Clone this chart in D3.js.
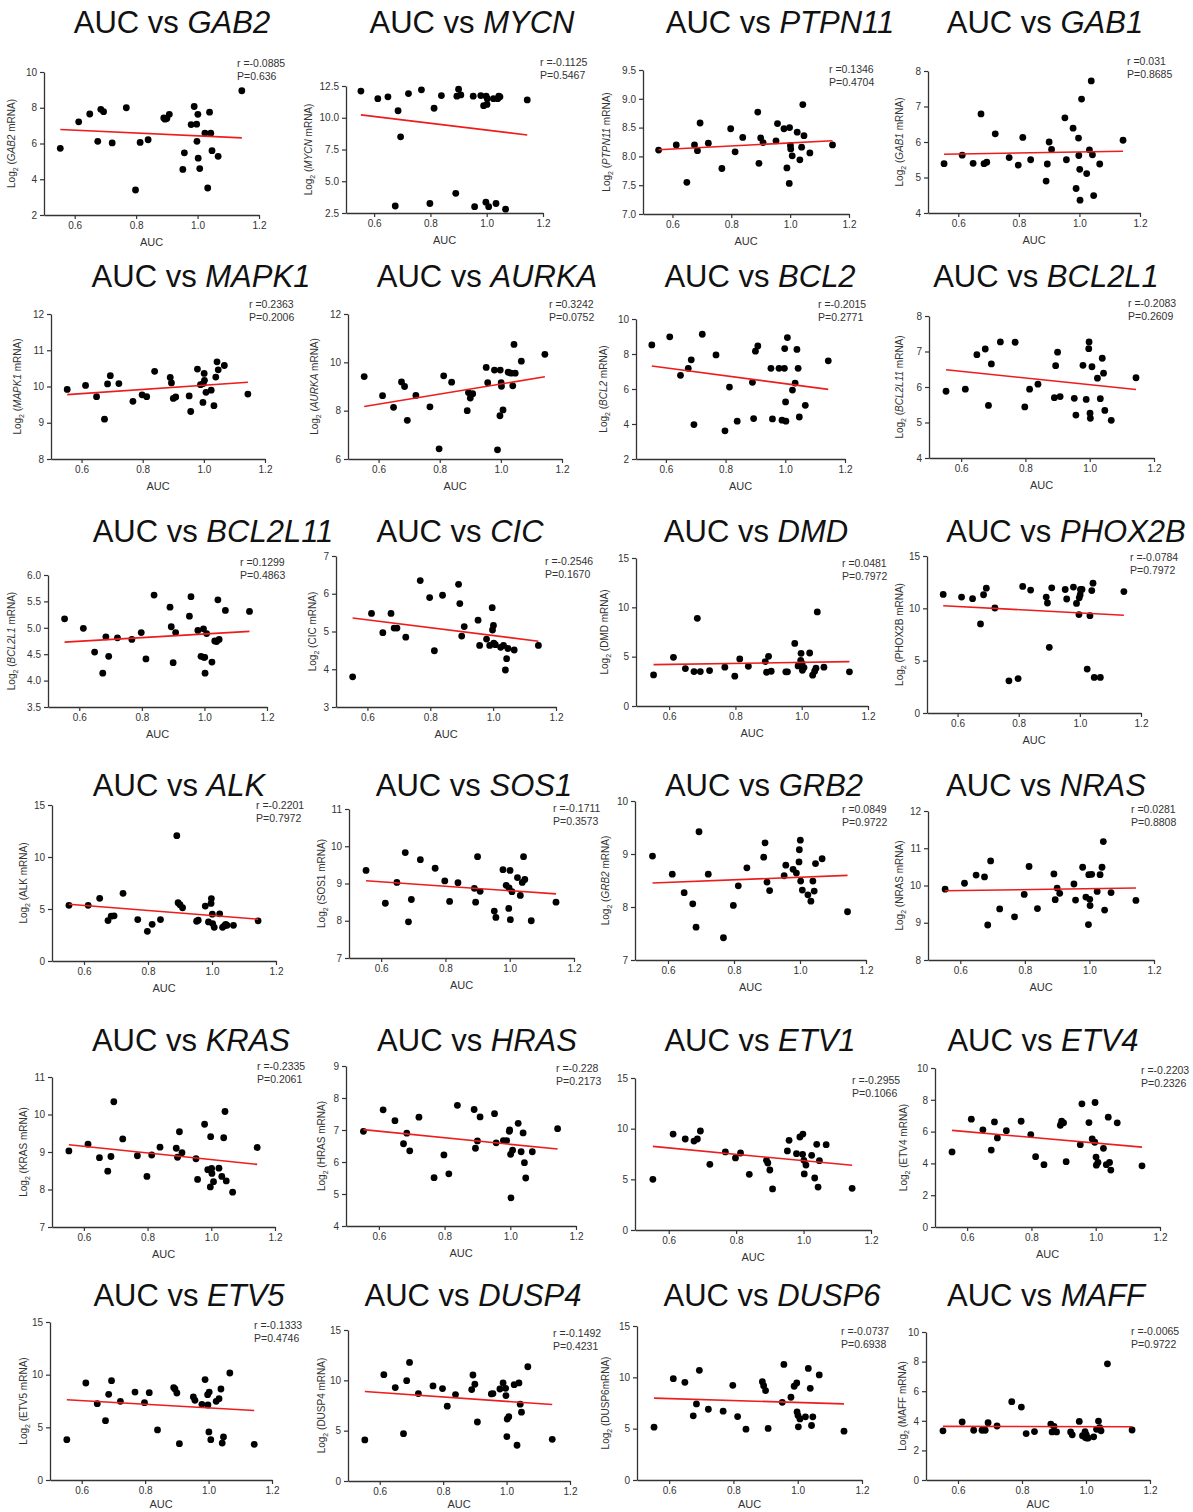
<!DOCTYPE html>
<html>
<head>
<meta charset="utf-8">
<script src="https://cdn.jsdelivr.net/npm/d3@7"></script>
<style>
body { margin: 0; background: #fff; }
svg text { font-family: "Liberation Sans", Arial, sans-serif; }
</style>
</head>
<body>
<div id="chart"></div>
<script>
// AUC of the 31 cell lines (same x for every panel)
var auc = [0.553, 0.613, 0.649, 0.675, 0.685, 0.694, 0.722, 0.768, 0.798, 0.813, 0.839,
	0.890, 0.894, 0.900, 0.908, 0.952, 0.957, 0.979, 0.989, 0.997, 0.998, 1.001, 1.002,
	1.007, 1.024, 1.033, 1.039, 1.043, 1.047, 1.067, 1.144];

var genes = ["GAB2", "MYCN", "PTPN11", "GAB1", "MAPK1", "AURKA", "BCL2", "BCL2L1",
	"BCL2L11", "CIC", "DMD", "PHOX2B", "ALK", "SOS1", "GRB2", "NRAS",
	"KRAS", "HRAS", "ETV1", "ETV4", "ETV5", "DUSP4", "DUSP6", "MAFF"];

// log2 mRNA, one value per cell line, in auc order
var y_GAB2 = [5.73, 7.21, 7.65, 6.12, 7.91, 7.78, 6.03, 8.0, 3.40, 6.06, 6.21, 7.43, 7.36, 7.40, 7.63, 4.55, 5.48, 7.06, 8.07, 7.08, 6.12, 7.63, 5.18, 4.60, 6.58, 3.51, 7.75, 6.58, 5.60, 5.28, 8.95];
var y_MYCN = [12.1, 11.5, 11.65, 3.05, 10.55, 8.5, 11.9, 12.2, 3.25, 10.75, 11.75, 4.05, 11.7, 12.25, 11.8, 11.7, 3.0, 11.75, 10.95, 3.35, 11.7, 11.05, 11.5, 3.0, 11.5, 3.25, 11.5, 11.7, 11.65, 2.8, 11.4];
var y_PTPN11 = [8.11, 8.20, 7.55, 8.20, 8.10, 8.58, 8.23, 7.79, 8.48, 8.08, 8.33, 8.77, 7.88, 8.32, 8.24, 8.27, 8.57, 8.48, 7.80, 7.53, 8.50, 8.19, 8.13, 8.01, 8.42, 7.94, 8.16, 8.90, 8.36, 8.06, 8.20];
var y_GAB1 = [5.39, 5.63, 5.40, 6.79, 5.39, 5.43, 6.23, 5.56, 5.35, 6.13, 5.50, 4.90, 5.38, 6.0, 5.79, 6.68, 5.50, 6.39, 4.69, 6.11, 5.62, 5.23, 4.36, 7.21, 5.11, 5.78, 7.72, 5.64, 4.49, 5.38, 6.05];
var y_MAPK1 = [9.92, 10.03, 9.72, 9.10, 10.07, 10.30, 10.08, 9.59, 9.77, 9.72, 10.42, 10.25, 10.1, 9.67, 9.71, 9.74, 9.31, 10.48, 10.05, 9.56, 10.08, 10.36, 10.17, 9.84, 9.9, 9.47, 10.26, 10.68, 10.46, 10.58, 9.79];
var y_AURKA = [9.41, 8.62, 8.14, 9.19, 9.0, 7.60, 8.63, 8.16, 6.42, 9.44, 9.18, 8.0, 8.75, 8.52, 8.7, 9.79, 9.16, 9.68, 6.38, 7.79, 9.68, 9.16, 9.01, 8.03, 9.59, 9.55, 9.03, 10.74, 9.55, 10.05, 10.33];
var y_BCL2 = [8.52, 8.98, 6.78, 7.18, 7.67, 3.97, 9.13, 7.95, 3.61, 6.11, 4.16, 6.38, 4.31, 8.16, 8.46, 7.18, 4.29, 7.18, 4.22, 7.18, 8.31, 5.26, 4.16, 8.94, 5.94, 6.34, 8.26, 7.18, 4.40, 5.07, 7.61];
var y_BCL2L1 = [5.88, 5.94, 6.91, 7.07, 5.48, 6.65, 7.27, 7.26, 5.44, 5.94, 6.08, 5.70, 6.60, 6.98, 5.73, 5.68, 5.21, 6.61, 5.65, 7.08, 7.27, 5.26, 5.12, 6.57, 6.25, 5.67, 6.81, 6.39, 5.34, 5.06, 6.26];
var y_BCL2L11 = [5.17, 4.99, 4.54, 4.14, 4.83, 4.46, 4.81, 4.78, 4.91, 4.41, 5.62, 5.39, 5.02, 4.34, 4.91, 5.22, 5.59, 4.95, 4.46, 4.98, 4.44, 4.44, 4.14, 4.89, 4.35, 4.75, 4.74, 5.53, 4.78, 5.33, 5.31];
var y_CIC = [3.80, 5.48, 4.97, 5.48, 5.09, 5.09, 4.85, 6.35, 5.90, 4.49, 5.96, 6.25, 5.74, 4.88, 5.13, 5.30, 4.63, 4.80, 4.63, 5.63, 5.04, 5.16, 4.69, 4.65, 4.58, 4.63, 3.98, 4.28, 4.55, 4.51, 4.63];
var y_DMD = [3.15, 4.93, 3.79, 3.49, 8.89, 3.49, 3.59, 3.93, 3.02, 4.77, 4.03, 4.50, 3.42, 5.03, 3.52, 3.46, 3.46, 6.34, 4.06, 4.63, 5.34, 4.30, 3.62, 3.89, 5.37, 3.12, 3.52, 3.83, 9.53, 3.93, 3.46];
var y_PHOX2B = [11.33, 11.08, 10.92, 8.51, 11.30, 11.93, 10.03, 3.07, 3.29, 12.09, 11.74, 11.08, 10.51, 6.27, 11.96, 11.80, 10.89, 12.03, 10.47, 9.40, 11.0, 11.3, 11.8, 11.8, 4.2, 9.3, 11.7, 12.4, 3.4, 3.4, 11.6];
var y_ALK = [5.35, 5.35, 6.03, 3.89, 4.31, 4.34, 6.51, 3.98, 2.85, 3.53, 3.98, 12.05, 5.60, 5.41, 5.12, 3.82, 3.92, 5.28, 3.76, 5.54, 6.0, 4.50, 3.60, 3.24, 4.54, 3.24, 3.40, 3.53, 3.43, 3.43, 3.86];
var y_SOS1 = [9.35, 8.47, 9.03, 9.83, 7.97, 8.57, 9.64, 9.41, 9.07, 8.52, 9.02, 8.87, 8.50, 9.72, 8.79, 8.26, 8.09, 9.37, 8.95, 8.33, 8.88, 9.35, 8.03, 8.78, 9.16, 8.68, 9.03, 9.72, 9.11, 8.0, 8.50];
var y_GRB2 = [8.96, 8.62, 8.27, 8.06, 7.62, 9.42, 8.62, 7.42, 8.03, 8.40, 8.74, 8.94, 9.21, 8.47, 8.31, 8.59, 8.79, 8.71, 8.64, 8.85, 9.08, 9.26, 8.49, 8.32, 8.23, 8.11, 8.49, 8.30, 8.82, 8.91, 7.91];
var y_NRAS = [9.90, 10.06, 10.28, 10.23, 8.94, 10.66, 9.37, 9.16, 9.76, 10.51, 9.38, 10.31, 9.62, 9.93, 9.79, 10.04, 9.61, 10.49, 9.69, 8.95, 10.29, 9.63, 9.46, 10.30, 9.84, 10.29, 10.49, 11.18, 9.34, 9.81, 9.60];
var y_KRAS = [9.03, 9.21, 8.85, 8.49, 8.88, 10.34, 9.35, 8.90, 8.35, 8.92, 9.13, 9.10, 8.86, 9.54, 8.98, 8.82, 8.27, 9.74, 8.53, 8.07, 9.41, 8.56, 8.43, 8.21, 8.57, 8.35, 9.38, 10.08, 8.23, 7.93, 9.12];
var y_HRAS = [6.96, 7.63, 7.29, 6.57, 6.90, 6.35, 7.40, 5.51, 6.22, 5.63, 7.77, 7.64, 6.43, 6.66, 7.41, 7.51, 6.60, 6.67, 6.67, 6.96, 7.0, 6.24, 4.88, 6.37, 7.21, 6.32, 6.91, 5.98, 5.50, 6.32, 7.04];
var y_ETV1 = [5.0, 9.47, 8.98, 8.78, 8.98, 9.77, 6.48, 7.70, 7.11, 7.60, 5.49, 6.88, 6.61, 5.92, 4.05, 7.80, 8.85, 7.53, 9.18, 7.47, 9.47, 6.88, 5.53, 6.41, 7.37, 5.13, 8.45, 4.24, 6.84, 8.42, 4.11];
var y_ETV4 = [4.72, 6.78, 6.11, 4.84, 6.61, 5.60, 6.06, 6.65, 5.81, 4.42, 3.92, 6.40, 6.65, 6.55, 4.11, 5.18, 7.75, 6.57, 5.54, 5.33, 7.83, 4.40, 3.89, 4.06, 4.95, 3.92, 6.91, 4.06, 3.58, 6.55, 3.85];
var y_ETV5 = [3.83, 9.21, 7.25, 5.63, 8.13, 9.43, 7.47, 8.35, 7.34, 8.29, 4.75, 8.77, 8.64, 8.26, 3.45, 7.88, 7.56, 7.18, 9.53, 8.10, 7.12, 4.56, 8.35, 3.83, 7.47, 7.72, 8.64, 3.51, 4.08, 10.16, 3.39];
var y_DUSP4 = [4.08, 10.56, 9.28, 4.70, 9.97, 11.78, 8.68, 9.44, 9.18, 7.43, 8.59, 9.08, 10.53, 9.61, 5.86, 8.65, 8.68, 9.14, 9.74, 9.21, 8.49, 4.41, 6.15, 6.38, 9.57, 3.55, 9.74, 7.63, 6.84, 11.35, 4.14];
var y_DUSP6 = [5.15, 9.87, 9.51, 6.25, 7.41, 10.68, 6.89, 6.70, 9.22, 6.18, 4.95, 9.58, 9.19, 8.71, 5.02, 7.57, 11.26, 8.06, 9.13, 9.45, 6.63, 6.28, 5.18, 5.95, 6.15, 10.87, 8.93, 5.31, 6.15, 10.23, 4.76];
var y_MAFF = [3.32, 3.92, 3.36, 3.36, 3.36, 3.87, 3.65, 5.29, 4.93, 3.14, 3.27, 3.78, 3.25, 3.63, 3.25, 3.25, 3.05, 3.96, 2.99, 3.27, 2.88, 3.05, 2.83, 2.83, 2.92, 3.43, 3.98, 3.54, 3.32, 7.85, 3.38];

var yValues = [y_GAB2, y_MYCN, y_PTPN11, y_GAB1, y_MAPK1, y_AURKA, y_BCL2, y_BCL2L1,
	y_BCL2L11, y_CIC, y_DMD, y_PHOX2B, y_ALK, y_SOS1, y_GRB2, y_NRAS,
	y_KRAS, y_HRAS, y_ETV1, y_ETV4, y_ETV5, y_DUSP4, y_DUSP6, y_MAFF];

var rText = ["-0.0885", "-0.1125", "0.1346", "0.031", "0.2363", "0.3242", "-0.2015", "-0.2083",
	"0.1299", "-0.2546", "0.0481", "-0.0784", "-0.2201", "-0.1711", "0.0849", "0.0281",
	"-0.2335", "-0.228", "-0.2955", "-0.2203", "-0.1333", "-0.1492", "-0.0737", "-0.0065"];
var pText = ["0.636", "0.5467", "0.4704", "0.8685", "0.2006", "0.0752", "0.2771", "0.2609",
	"0.4863", "0.1670", "0.7972", "0.7972", "0.7972", "0.3573", "0.9722", "0.8808",
	"0.2061", "0.2173", "0.1066", "0.2326", "0.4746", "0.4231", "0.6938", "0.9722"];

var yDomains = [[2, 10], [2.5, 12.5], [7, 9.5], [4, 8], [8, 12], [6, 12], [2, 10], [4, 8],
	[3.5, 6], [3, 7], [0, 15], [0, 15], [0, 15], [7, 11], [7, 10], [8, 12],
	[7, 11], [4, 9], [0, 15], [0, 10], [0, 15], [0, 15], [0, 15], [0, 10]];
var yStep = [2, 2.5, 0.5, 1, 1, 2, 2, 1, 0.5, 1, 5, 5, 5, 1, 1, 1, 1, 1, 5, 2, 5, 5, 5, 2];
var xTicks = [0.6, 0.8, 1.0, 1.2];

// y-axis label gene name, and whether it is set in italics ("" = no label)
var yLabelGene = ["GAB2", "MYCN", "PTPN11", "GAB1", "MAPK1", "AURKA", "BCL2", "BCL2L11",
	"BCL2L1", "CIC", "DMD", "PHOX2B", "ALK", "SOS1", "GRB2", "NRAS",
	"KRAS", "HRAS", "", "ETV4", "ETV5", "DUSP4", "DUSP6", "MAFF"];
var yLabelItalic = [1, 1, 1, 1, 1, 1, 1, 1, 1, 0, 0, 0, 0, 0, 1, 0, 0, 0, 0, 0, 0, 0, 0, 0];

// panel placement: title x, title y, x pixel of AUC 0.5, x pixel of AUC 1.2, y top, y bottom, stats x, stats y, y label x
var layout = [
	[172, 22, 44, 259, 72, 215, 237, 63, 15],
	[472, 22, 346, 543, 86, 213, 540, 62, 312],
	[780, 22, 643, 849, 70, 214, 829, 69, 610],
	[1045, 22, 928, 1140, 71, 213, 1127, 61, 903],
	[201, 276, 51, 265, 314, 459, 249, 304, 21],
	[487, 276, 348, 562, 314, 459, 549, 304, 318],
	[760, 276, 636, 845, 319, 459, 818, 304, 607],
	[1046, 276, 929, 1154, 316, 458, 1128, 303, 903],
	[213, 531, 48, 267, 575, 707, 240, 562, 15],
	[460, 531, 336, 556, 556, 707, 545, 561, 316],
	[756, 531, 636, 868, 558, 706, 842, 563, 608],
	[1066, 531, 927, 1141, 556, 713, 1130, 557, 903],
	[179, 785, 52, 276, 805, 961, 256, 805, 27],
	[474, 785, 349, 574, 809, 958, 553, 808, 325],
	[764, 785, 635, 866, 801, 960, 842, 809, 609],
	[1046, 785, 928, 1154, 811, 960, 1131, 809, 903],
	[191, 1040, 52, 275, 1077, 1227, 257, 1066, 27],
	[477, 1040, 346, 576, 1066, 1226, 556, 1068, 325],
	[760, 1040, 635, 871, 1078, 1230, 852, 1080, 0],
	[1043, 1040, 935, 1160, 1068, 1227, 1141, 1070, 907],
	[189, 1295, 50, 272, 1322, 1480, 254, 1325, 27],
	[473, 1295, 348, 570, 1330, 1481, 553, 1333, 325],
	[772, 1295, 637, 862, 1326, 1480, 841, 1331, 609],
	[1046, 1295, 926, 1150, 1332, 1480, 1131, 1331, 906]
];

var width = 1193, height = 1512;
var svg = d3.select("#chart").append("svg")
	.attr("width", width)
	.attr("height", height);

function fit(xs, ys) {
	var mx = d3.mean(xs), my = d3.mean(ys);
	var sxy = 0, sxx = 0;
	for (var i = 0; i < xs.length; i++) {
		sxy += (xs[i] - mx) * (ys[i] - my);
		sxx += (xs[i] - mx) * (xs[i] - mx);
	}
	var b = sxy / sxx;
	return { b: b, a: my - b * mx };
}

genes.forEach(function(gene, k) {
	var L = layout[k];
	var g = svg.append("g");
	var ys = yValues[k];

	// title
	var title = g.append("text")
		.attr("x", L[0])
		.attr("y", L[1] + 11)
		.attr("text-anchor", "middle")
		.style("font-size", "31px")
		.style("fill", "#111");
	title.append("tspan").text("AUC vs ");
	title.append("tspan").style("font-style", "italic").text(gene);

	var x = d3.scaleLinear().domain([0.5, 1.2]).range([L[2], L[3]]);
	var y = d3.scaleLinear().domain(yDomains[k]).range([L[5], L[4]]);

	var yt = d3.range(yDomains[k][0], yDomains[k][1] + yStep[k] / 2, yStep[k]);
	var fmt = (yStep[k] < 1 || yDomains[k][0] % 1 != 0) ? d3.format(".1f") : d3.format("d");

	var yAxis = g.append("g")
		.attr("transform", "translate(" + L[2] + ",0)")
		.call(d3.axisLeft(y).tickValues(yt).tickFormat(fmt).tickSize(4).tickSizeOuter(0));
	var xAxis = g.append("g")
		.attr("transform", "translate(0," + L[5] + ")")
		.call(d3.axisBottom(x).tickValues(xTicks).tickFormat(d3.format(".1f")).tickSize(4).tickSizeOuter(0));

	[yAxis, xAxis].forEach(function(a) {
		a.select(".domain").attr("stroke", "#333").attr("stroke-width", 1.3);
		a.selectAll(".tick line").attr("stroke", "#333").attr("stroke-width", 1.2);
		a.selectAll(".tick text").style("font-size", "10px").style("fill", "#333")
			.style("font-family", "'Liberation Sans', Arial, sans-serif");
	});

	// x label
	g.append("text")
		.attr("x", (L[2] + L[3]) / 2)
		.attr("y", Math.min(L[5] + 31, height - 4))
		.attr("text-anchor", "middle")
		.style("font-size", "11px")
		.style("fill", "#333")
		.text("AUC");

	// y label
	if (yLabelGene[k] != "") {
		var yl = g.append("text")
			.attr("transform", "translate(" + L[8] + "," + ((L[4] + L[5]) / 2) + ") rotate(-90)")
			.attr("text-anchor", "middle")
			.style("font-size", "10px")
			.style("fill", "#333");
		yl.append("tspan").text("Log");
		yl.append("tspan").attr("dy", 3).style("font-size", "7px").text("2");
		yl.append("tspan").attr("dy", -3).text(" (");
		var gt = yl.append("tspan").text(yLabelGene[k]);
		if (yLabelItalic[k]) gt.style("font-style", "italic");
		yl.append("tspan").text(gene == "DUSP6" ? "mRNA)" : " mRNA)");
	}

	// stats
	g.append("text")
		.attr("x", L[6]).attr("y", L[7] + 4)
		.style("font-size", "10.5px").style("fill", "#333")
		.text("r =" + rText[k]);
	g.append("text")
		.attr("x", L[6]).attr("y", L[7] + 17)
		.style("font-size", "10.5px").style("fill", "#333")
		.text("P=" + pText[k]);

	// points
	g.selectAll("circle.pt")
		.data(ys)
		.enter().append("circle")
		.attr("class", "pt")
		.attr("cx", function(d, i) { return x(auc[i]); })
		.attr("cy", function(d) { return y(d); })
		.attr("r", 3.4)
		.style("fill", "#000");

	// linear regression line
	var f = fit(auc, ys);
	var x0 = d3.min(auc), x1 = d3.max(auc);
	g.append("line")
		.attr("x1", x(x0)).attr("y1", y(f.a + f.b * x0))
		.attr("x2", x(x1)).attr("y2", y(f.a + f.b * x1))
		.attr("stroke", "#ee1c1c")
		.attr("stroke-width", 1.6);
});
</script>
</body>
</html>
